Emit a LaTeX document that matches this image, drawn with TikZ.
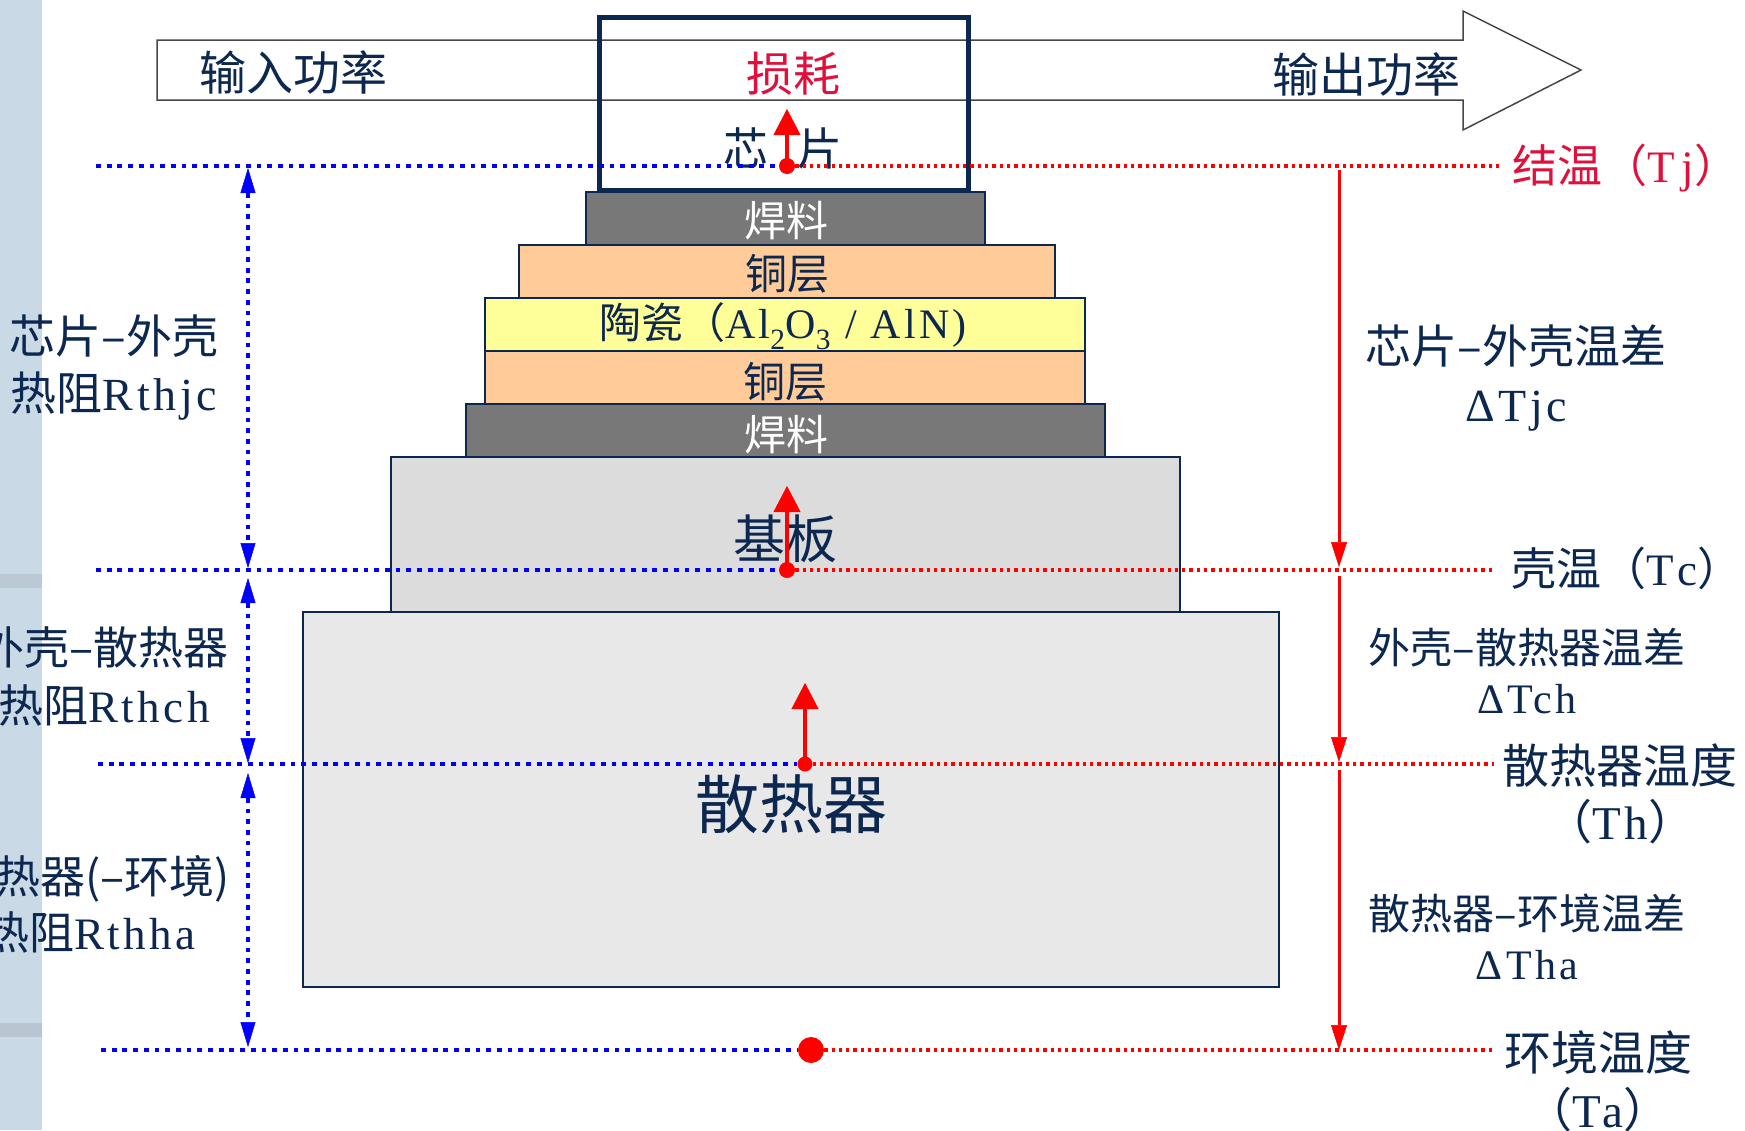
\documentclass[tikz,border=0pt]{standalone}
\usepackage{fontspec}
\setmainfont{Liberation Serif}
\newfontfamily\cjk{Noto Sans CJK SC}
\newfontfamily\latf[LetterSpace=8]{Liberation Serif}
\newfontfamily\latw[LetterSpace=16]{Liberation Serif}
\usetikzlibrary{arrows.meta}
\definecolor{navy}{RGB}{13,40,80}
\definecolor{crim}{RGB}{224,16,60}
\definecolor{stripe}{RGB}{201,217,230}
\definecolor{soldergray}{RGB}{120,120,120}
\definecolor{copper}{RGB}{255,204,153}
\definecolor{ceram}{RGB}{255,255,153}
\definecolor{basegray}{RGB}{220,220,220}
\definecolor{sinkgray}{RGB}{232,232,232}
\definecolor{pureblue}{RGB}{0,0,255}
\definecolor{purered}{RGB}{255,0,0}
\newcommand\lat[1]{{\latf #1}}
\newcommand\latwide[1]{{\latw #1}}
\newcommand\fs[2]{\fontsize{#1}{#2}\cjk}
\begin{document}
\begin{tikzpicture}[x=1pt, y=-1pt,
  slab/.style={draw=navy, line width=2.5pt, inner sep=0pt},
  lbl/.style={inner sep=0pt, text=navy, align=center},
  bdot/.style={pureblue, line width=4.3pt, dash pattern=on 4.8pt off 5.9pt},
  rdot/.style={purered, line width=3.3pt, dash pattern=on 3.3pt off 4pt},
  bvarrow/.style={bdot, {Triangle[width=15pt,length=25pt,line width=0.5pt]}-{Triangle[width=15pt,length=25pt,line width=0.5pt]}},
  rvarrow/.style={purered, line width=3pt, -{Triangle[width=16pt,length=25pt,line width=0.5pt]}},
  rup/.style={purered, line width=3.5pt, -{Triangle[width=27pt,length=26pt,line width=0.5pt]}},
  spot/.style={circle, fill=purered, inner sep=0pt},
]
\useasboundingbox (0,0) rectangle (1745,1130);
\clip (0,0) rectangle (1745,1130);
\fill[white] (0,0) rectangle (1745,1130);
% left stripe
\fill[stripe] (0,0) rectangle (42,1130);
\fill[gray!18!stripe] (0,574) rectangle (42,588);
\fill[gray!22!stripe] (0,1023) rectangle (42,1037);

% power arrow
\draw[draw=black!72, line width=1.5pt, fill=white] (157,40) -- (1463,40) -- (1463,11) -- (1581,70) -- (1463,130) -- (1463,100) -- (157,100) -- cycle;

% layers
\node[slab, fill=sinkgray, minimum width=976pt, minimum height=375pt] (sink) at (791,799.5) {};
\node[slab, fill=basegray, minimum width=789pt, minimum height=155pt] (base) at (785.5,534.5) {};
\node[slab, fill=soldergray, minimum width=639pt, minimum height=53pt] (solderB) at (785.5,430.5) {};
\node[slab, fill=copper, minimum width=600pt, minimum height=53pt] (cuB) at (785,377.5) {};
\node[slab, fill=ceram, minimum width=600pt, minimum height=53pt] (ceramic) at (785,324.5) {};
\node[slab, fill=copper, minimum width=536pt, minimum height=53pt] (cuA) at (787,271.5) {};
\node[slab, fill=soldergray, minimum width=399pt, minimum height=53pt] (solderA) at (785.5,218.5) {};
\node[draw=navy, line width=5pt, inner sep=0pt, minimum width=369pt, minimum height=173pt] (chip) at (783.5,103.5) {};

% layer texts
\node[lbl, text=white, font=\fs{42}{50}] (tsolderA) at (786,221) {焊料};
\node[lbl, font=\fs{42}{50}] (tcuA) at (787,274) {铜层};
\node[lbl, font=\fs{42}{50}] (tceramic) at (783,326) {陶瓷（\lat{Al\textsubscript{2}O\textsubscript{3} / AlN)}};
\node[lbl, font=\fs{42}{50}] (tcuB) at (785,382) {铜层};
\node[lbl, text=white, font=\fs{42}{50}] (tsolderB) at (786,435) {焊料};
\node[lbl, font=\fs{52}{60}] (tbase) at (785,539) {基板};
\node[lbl, font=\fs{64}{72}] (tsink) at (791,804) {散热器};
\node[lbl, font=\fs{45}{52}] (tchip) at (783,148) {芯\hspace{29pt}片};

% top texts
\node[lbl, font=\fs{47}{54}] (pin) at (293,72) {输入功率};
\node[lbl, font=\fs{47}{54}] (pout) at (1366,74) {输出功率};
\node[lbl, text=crim, font=\fs{47}{54}] (loss) at (793,74) {损耗};

% temperature points
\node[spot, minimum size=16pt] (J) at (787,166) {};
\node[spot, minimum size=16pt] (C) at (787,570) {};
\node[spot, minimum size=15pt] (H) at (805,764) {};
\node[spot, minimum size=26pt] (A) at (811,1050) {};

\coordinate (bJ) at (96,166);
\coordinate (bC) at (96,570);
\coordinate (bH) at (98,764);
\coordinate (bA) at (101,1050);
\coordinate (rJ) at (1502,166);
\coordinate (rC) at (1492,570);
\coordinate (rH) at (1494,764);
\coordinate (rA) at (1493,1050);

\draw[bdot] (bJ) -- (J);
\draw[bdot] (bC) -- (C);
\draw[bdot] (bH) -- (H);
\draw[bdot] (bA) -- (A);
\draw[rdot] (J) -- (rJ);
\draw[rdot] (C) -- (rC);
\draw[rdot] (H) -- (rH);
\draw[rdot] (A) -- (rA);

% upward heat-flow arrows
\coordinate (Jt) at (787,109);
\coordinate (Ct) at (787,486);
\coordinate (Ht) at (805,683);
\draw[rup] (J.center) -- (Jt);
\draw[rup] (C.center) -- (Ct);
\draw[rup] (H.center) -- (Ht);

% blue resistance arrows
\coordinate (v1a) at (248,168);
\coordinate (v1b) at (248,568);
\coordinate (v2a) at (248,578);
\coordinate (v2b) at (248,763);
\coordinate (v3a) at (248,773);
\coordinate (v3b) at (248,1047);
\draw[bvarrow] (v1a) -- (v1b);
\draw[bvarrow] (v2a) -- (v2b);
\draw[bvarrow] (v3a) -- (v3b);

% red temperature-difference arrows
\coordinate (r1a) at (1339,170);
\coordinate (r1b) at (1339,567);
\coordinate (r2a) at (1339,576);
\coordinate (r2b) at (1339,762);
\coordinate (r3a) at (1339,770);
\coordinate (r3b) at (1339,1050);
\draw[rvarrow] (r1a) -- (r1b);
\draw[rvarrow] (r2a) -- (r2b);
\draw[rvarrow] (r3a) -- (r3b);

% left labels
\node[lbl, font=\fs{46}{57}] (Rjc) at (114,368) {芯片–外壳\\热阻\lat{Rthjc}};
\node[lbl, font=\fs{45}{58}] (Rch) at (104,676) {外壳–散热器\\热阻\lat{Rthch}};
\node[lbl, font=\fs{45}{56}] (Rha) at (90,904) {散热器(–环境)\\热阻\lat{Rthha}};

% right labels
\node[lbl, text=crim, font=\fs{45}{52}, anchor=west] (Tj) at (1512,168) {结温（\latwide{Tj}）};
\node[lbl, font=\fs{45}{52}, anchor=west] (Tc) at (1511,568) {壳温（\latwide{Tc}）};
\node[lbl, font=\fs{47}{56}] (Th) at (1620,794) {散热器温度\\（\lat{Th}）};
\node[lbl, font=\fs{47}{57}] (Ta) at (1598,1081) {环境温度\\（\lat{Ta}）};
\node[lbl, font=\fs{46}{58}] (dTjc) at (1516,378) {芯片–外壳温差\\\lat{ΔTjc}};
\node[lbl, font=\fs{42}{50}] (dTch) at (1527,671) {外壳–散热器温差\\\lat{ΔTch}};
\node[lbl, font=\fs{42}{50}] (dTha) at (1527,937) {散热器–环境温差\\\lat{ΔTha}};
\end{tikzpicture}
\end{document}
